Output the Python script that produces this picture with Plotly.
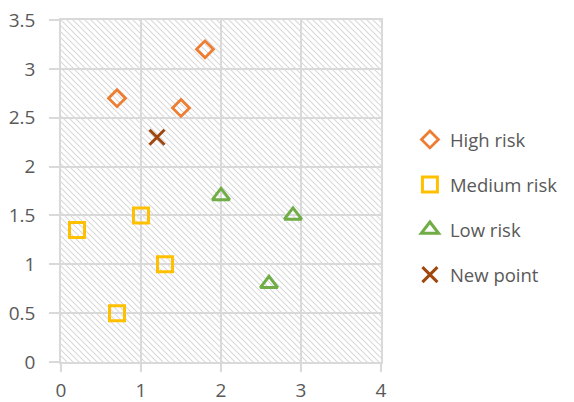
import base64
import plotly.graph_objects as go

high_x = [0.7, 1.5, 1.8]
high_y = [2.7, 2.6, 3.2]
med_x = [0.2, 1.0, 1.3, 0.7]
med_y = [1.35, 1.5, 1.0, 0.5]
low_x = [2.0, 2.9, 2.6]
low_y = [1.7, 1.5, 0.8]
new_x = [1.2]
new_y = [2.3]

x_ticks = [0, 1, 2, 3, 4]
y_ticks = [0, 0.5, 1, 1.5, 2, 2.5, 3, 3.5]
y_labels = ["0", "0.5", "1", "1.5", "2", "2.5", "3", "3.5"]

GRID = "#d9d9d9"
TXT = "#595959"
FONT = "Open Sans"

# hatch background as an SVG pattern image
svg = (
    '<svg xmlns="http://www.w3.org/2000/svg" width="320" height="342">'
    '<defs><pattern id="p" width="6" height="6" patternUnits="userSpaceOnUse">'
    '<path d="M-1,-1 L7,7 M-1,5 L1,7 M5,-1 L7,1" stroke="#d9d9d9" stroke-width="1.1"/>'
    '</pattern></defs><rect width="320" height="342" fill="white"/>'
    '<rect width="320" height="342" fill="url(#p)"/></svg>'
)
uri = "data:image/svg+xml;base64," + base64.b64encode(svg.encode()).decode()

fig = go.Figure()
fig.add_trace(go.Scatter(x=high_x, y=high_y, mode="markers", name="High risk", legendgroup="a",
                         marker=dict(symbol="diamond-open", color="#ED7D31", size=13, line=dict(width=2.8))))
fig.add_trace(go.Scatter(x=med_x, y=med_y, mode="markers", name="Medium risk", legendgroup="b",
                         marker=dict(symbol="square-open", color="#FFC000", size=15, line=dict(width=3))))
fig.add_trace(go.Scatter(x=low_x, y=low_y, mode="markers", name="Low risk", legendgroup="c",
                         marker=dict(symbol="triangle-up-open", color="#70AD47", size=15, line=dict(width=3))))
fig.add_trace(go.Scatter(x=new_x, y=new_y, mode="markers", name="New point", legendgroup="d",
                         marker=dict(symbol="x-thin-open", color="#9E480E", size=15, line=dict(width=3, color="#9E480E"))))

fig.add_layout_image(dict(source=uri, xref="x", yref="y", x=0, y=3.5, sizex=4, sizey=3.5,
                          sizing="stretch", layer="below", xanchor="left", yanchor="top"))

fig.update_layout(
    width=574, height=402,
    margin=dict(l=61, r=192, t=20, b=40),
    paper_bgcolor="white", plot_bgcolor="rgba(0,0,0,0)",
    font=dict(family=FONT, color=TXT, size=19),
    legend=dict(x=1.087, y=0.452, xanchor="left", yanchor="middle",
                font=dict(size=18.5, color=TXT), tracegroupgap=18, itemwidth=30),
    xaxis=dict(range=[0, 4], tickvals=x_ticks, showgrid=True, gridcolor=GRID, gridwidth=1.5,
               zeroline=False, showline=True, linecolor=GRID, linewidth=1.5, mirror=True,
               ticks="outside", ticklen=8, tickcolor=GRID, tickwidth=1.5, ticklabelstandoff=2,
               automargin=False, tickfont=dict(size=19, color=TXT)),
    yaxis=dict(range=[0, 3.5], tickvals=y_ticks, ticktext=y_labels, showgrid=True, gridcolor=GRID,
               gridwidth=1.5, zeroline=False, showline=True, linecolor=GRID, linewidth=1.5, mirror=True,
               ticks="outside", ticklen=10, tickcolor=GRID, tickwidth=1.5, ticklabelstandoff=10,
               automargin=False, tickfont=dict(size=19, color=TXT)),
)

fig.write_html("out.html")
